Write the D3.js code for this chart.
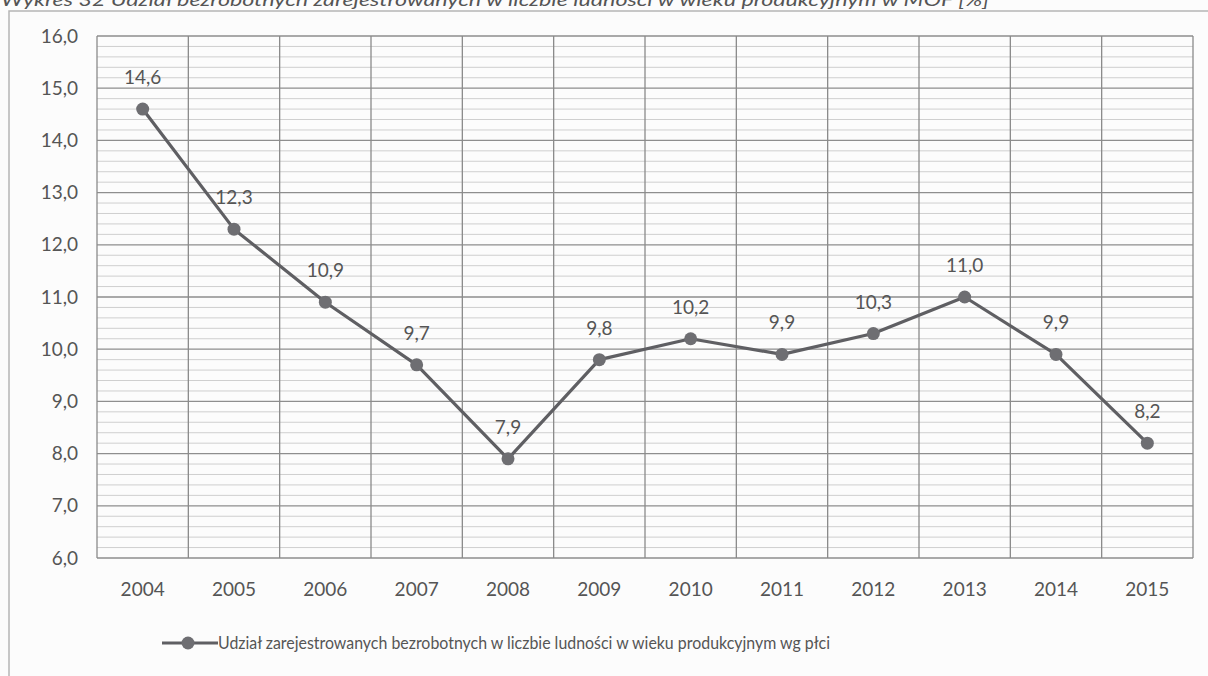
<!DOCTYPE html>
<html>
<head>
<meta charset="utf-8">
<script src="https://cdn.jsdelivr.net/npm/d3@7"></script>
<style>
  html, body { margin: 0; padding: 0; background: #fcfcfc; }
  svg { display: block; }
  text { font-family: Lato, "Open Sans", "Liberation Sans", sans-serif; fill: #555; }
</style>
</head>
<body>
<svg id="chart" width="1208" height="676"></svg>
<script>
// Share of registered unemployed in the working-age population, 2004–2015
const years = ["2004","2005","2006","2007","2008","2009","2010","2011","2012","2013","2014","2015"];
const shares = [14.6, 12.3, 10.9, 9.7, 7.9, 9.8, 10.2, 9.9, 10.3, 11.0, 9.9, 8.2];
const yTicks = [6, 7, 8, 9, 10, 11, 12, 13, 14, 15, 16];
const titleText = "Wykres 32 Udział bezrobotnych zarejestrowanych w liczbie ludności w wieku produkcyjnym w MOF [%]";
const legendText = "Udział zarejestrowanych bezrobotnych w liczbie ludności w wieku produkcyjnym wg płci";

const fmt = v => d3.format(".1f")(v).replace(".", ",");
const FONT = "19px";

const svg = d3.select("#chart");
const plot = { left: 97, right: 1193, top: 36, bottom: 558 };

// Caption above the chart frame, running off the top edge of the page
svg.append("text")
  .attr("x", 1).attr("y", 6)
  .attr("textLength", 988)
  .attr("lengthAdjust", "spacingAndGlyphs")
  .style("font-style", "italic")
  .style("font-size", "17px")
  .style("fill", "#555")
  .text(titleText);

// Chart frame
svg.append("path")
  .attr("d", "M9,676 V11 H1208")
  .attr("fill", "none")
  .attr("stroke", "#b5b5b5")
  .attr("stroke-width", 1.5);

const x = d3.scaleBand().domain(years).range([plot.left, plot.right]);
const y = d3.scaleLinear().domain([6, 16]).range([plot.bottom, plot.top]);

// Minor horizontal grid (0.2 steps)
const minor = d3.range(6, 16.001, 0.2).filter(v => Math.abs(v - Math.round(v)) > 1e-6);
svg.append("g").selectAll("line").data(minor).join("line")
  .attr("x1", plot.left).attr("x2", plot.right)
  .attr("y1", d => y(d)).attr("y2", d => y(d))
  .attr("stroke", "#cfcfcf").attr("stroke-width", 1);

// Major horizontal grid
svg.append("g").selectAll("line").data(yTicks).join("line")
  .attr("x1", plot.left).attr("x2", plot.right)
  .attr("y1", d => y(d)).attr("y2", d => y(d))
  .attr("stroke", "#8e8e8e").attr("stroke-width", 1.3);

// Vertical category boundaries
const bounds = years.map(d => x(d)).concat([plot.right]);
svg.append("g").selectAll("line").data(bounds).join("line")
  .attr("x1", d => d).attr("x2", d => d)
  .attr("y1", plot.top).attr("y2", plot.bottom)
  .attr("stroke", "#8a8a8a").attr("stroke-width", 1.3);

// Y axis labels
const yAxis = d3.axisLeft(y).tickValues(yTicks).tickFormat(fmt).tickSize(0).tickPadding(19);
svg.append("g").attr("transform", `translate(${plot.left},0)`).call(yAxis)
  .call(g => g.select(".domain").remove())
  .selectAll("text").style("font-size", FONT).style("fill", "#555")
  .style("font-family", "Lato, 'Open Sans', sans-serif");

// X axis labels
const xAxis = d3.axisBottom(x).tickSize(0).tickPadding(25);
svg.append("g").attr("transform", `translate(0,${plot.bottom})`).call(xAxis)
  .call(g => g.select(".domain").remove())
  .selectAll("text").style("font-size", FONT).style("fill", "#555")
  .style("font-family", "Lato, 'Open Sans', sans-serif");

const cx = d => x(d) + x.bandwidth() / 2;

// Series line
const line = d3.line().x((d, i) => cx(years[i])).y(d => y(d));
svg.append("path").datum(shares)
  .attr("d", line)
  .attr("fill", "none")
  .attr("stroke", "#5f5f63")
  .attr("stroke-width", 3.2)
  .attr("stroke-linejoin", "round");

// Markers
svg.append("g").selectAll("circle").data(shares).join("circle")
  .attr("cx", (d, i) => cx(years[i]))
  .attr("cy", d => y(d))
  .attr("r", 6.5)
  .attr("fill", "#6e6e72");

// Value labels
svg.append("g").selectAll("text").data(shares).join("text")
  .attr("x", (d, i) => cx(years[i]))
  .attr("y", d => y(d) - 25)
  .attr("text-anchor", "middle")
  .style("font-size", FONT)
  .text(d => fmt(d));

// Legend
const lg = svg.append("g").attr("transform", "translate(162,643)");
lg.append("line").attr("x1", 0).attr("x2", 56).attr("y1", 0).attr("y2", 0)
  .attr("stroke", "#5f5f63").attr("stroke-width", 3.2);
lg.append("circle").attr("cx", 26).attr("cy", 0).attr("r", 6.5).attr("fill", "#6e6e72");
lg.append("text").attr("x", 56).attr("y", 6)
  .attr("textLength", 612)
  .attr("lengthAdjust", "spacingAndGlyphs")
  .style("font-size", "18px").text(legendText);
</script>
</body>
</html>
